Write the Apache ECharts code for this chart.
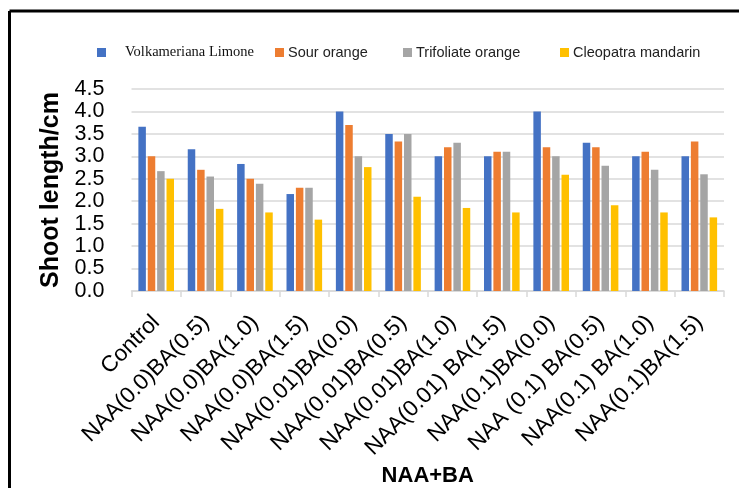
<!DOCTYPE html>
<html><head><meta charset="utf-8">
<script src="https://cdn.jsdelivr.net/npm/echarts@6/dist/echarts.min.js"></script>
<style>html,body{margin:0;padding:0;background:#fff}#c{width:739px;height:488px}</style>
</head><body><div id="c"></div>
<script>
const categories = ['Control','NAA(0.0)BA(0.5)','NAA(0.0)BA(1.0)','NAA(0.0)BA(1.5)','NAA(0.01)BA(0.0)','NAA(0.01)BA(0.5)','NAA(0.01)BA(1.0)','NAA(0.01) BA(1.5)','NAA(0.1)BA(0.0)','NAA (0.1) BA(0.5)','NAA(0.1) BA(1.0)','NAA(0.1)BA(1.5)'];
const seriesNames = ['Volkameriana Limone','Sour orange','Trifoliate orange','Cleopatra mandarin'];
const volkameriana = [3.66,3.16,2.83,2.16,4.0,3.5,3.0,3.0,4.0,3.3,3.0,3.0];
const sourOrange = [3.0,2.7,2.5,2.3,3.7,3.33,3.2,3.1,3.2,3.2,3.1,3.33];
const trifoliate = [2.67,2.55,2.39,2.3,3.0,3.5,3.3,3.1,3.0,2.79,2.7,2.6];
const cleopatra = [2.5,1.83,1.75,1.59,2.76,2.1,1.85,1.75,2.59,1.91,1.75,1.64];
const yTicks = [0,0.5,1,1.5,2,2.5,3,3.5,4,4.5];
const colors = ['#4472C4','#ED7D31','#A5A5A5','#FFC000'];
const values = [volkameriana,sourOrange,trifoliate,cleopatra];

const sans = 'Liberation Sans';
const legendLefts = [92,270,398,555];
const legends = seriesNames.map((n,i)=>({
  data:[n], left:legendLefts[i], top:40, itemWidth:9, itemHeight:9, itemGap:0,
  icon:'rect',
  textStyle: i===0 ? {fontFamily:'Liberation Serif',fontSize:14.5,color:'#111',padding:[0,0,0,14]} : {fontFamily:sans,fontSize:14.5,color:'#222',padding:[0,0,0,-1]}
}));

const chart = echarts.init(document.getElementById('c'));
chart.setOption({
  animation:false,
  backgroundColor:'#fff',
  color:colors,
  legend:legends,
  grid:{left:131.5,right:15,top:89,bottom:196},
  xAxis:{type:'category',data:categories,
    axisLine:{lineStyle:{color:'#d9d9d9',width:1.5}},
    axisTick:{show:true,length:6,lineStyle:{color:'#d9d9d9',width:1.5}},
    axisLabel:{rotate:45,fontFamily:sans,fontSize:22.5,color:'#000',margin:28,interval:0},
    name:'NAA+BA',nameLocation:'middle',nameGap:174,
    nameTextStyle:{fontFamily:sans,fontSize:22,fontWeight:'bold',color:'#000'}
  },
  yAxis:{type:'value',min:0,max:4.5,interval:0.5,
    axisLine:{show:false},axisTick:{show:false},
    splitLine:{lineStyle:{color:'#d9d9d9',width:1.5}},
    axisLabel:{fontFamily:sans,fontSize:21.5,lineHeight:18,color:'#000',margin:27,
      showMinLabel:true,showMaxLabel:true,hideOverlap:false,
      formatter:v=>yTicks.includes(v)?v.toFixed(1):''},
    name:'Shoot length/cm',nameLocation:'middle',nameGap:67,
    nameTextStyle:{fontFamily:sans,fontSize:25,fontWeight:'bold',color:'#000'}
  },
  series:values.map((d,i)=>({name:seriesNames[i],type:'bar',data:d,barWidth:7.5,barGap:'25%',
    itemStyle:{color:colors[i]}})),
  graphic:[
    {type:'line',shape:{x1:9.5,y1:11,x2:739,y2:11},style:{stroke:'#000',lineWidth:3}},
    {type:'line',shape:{x1:9.5,y1:11,x2:9.5,y2:488},style:{stroke:'#000',lineWidth:3}}
  ]
});
</script></body></html>
